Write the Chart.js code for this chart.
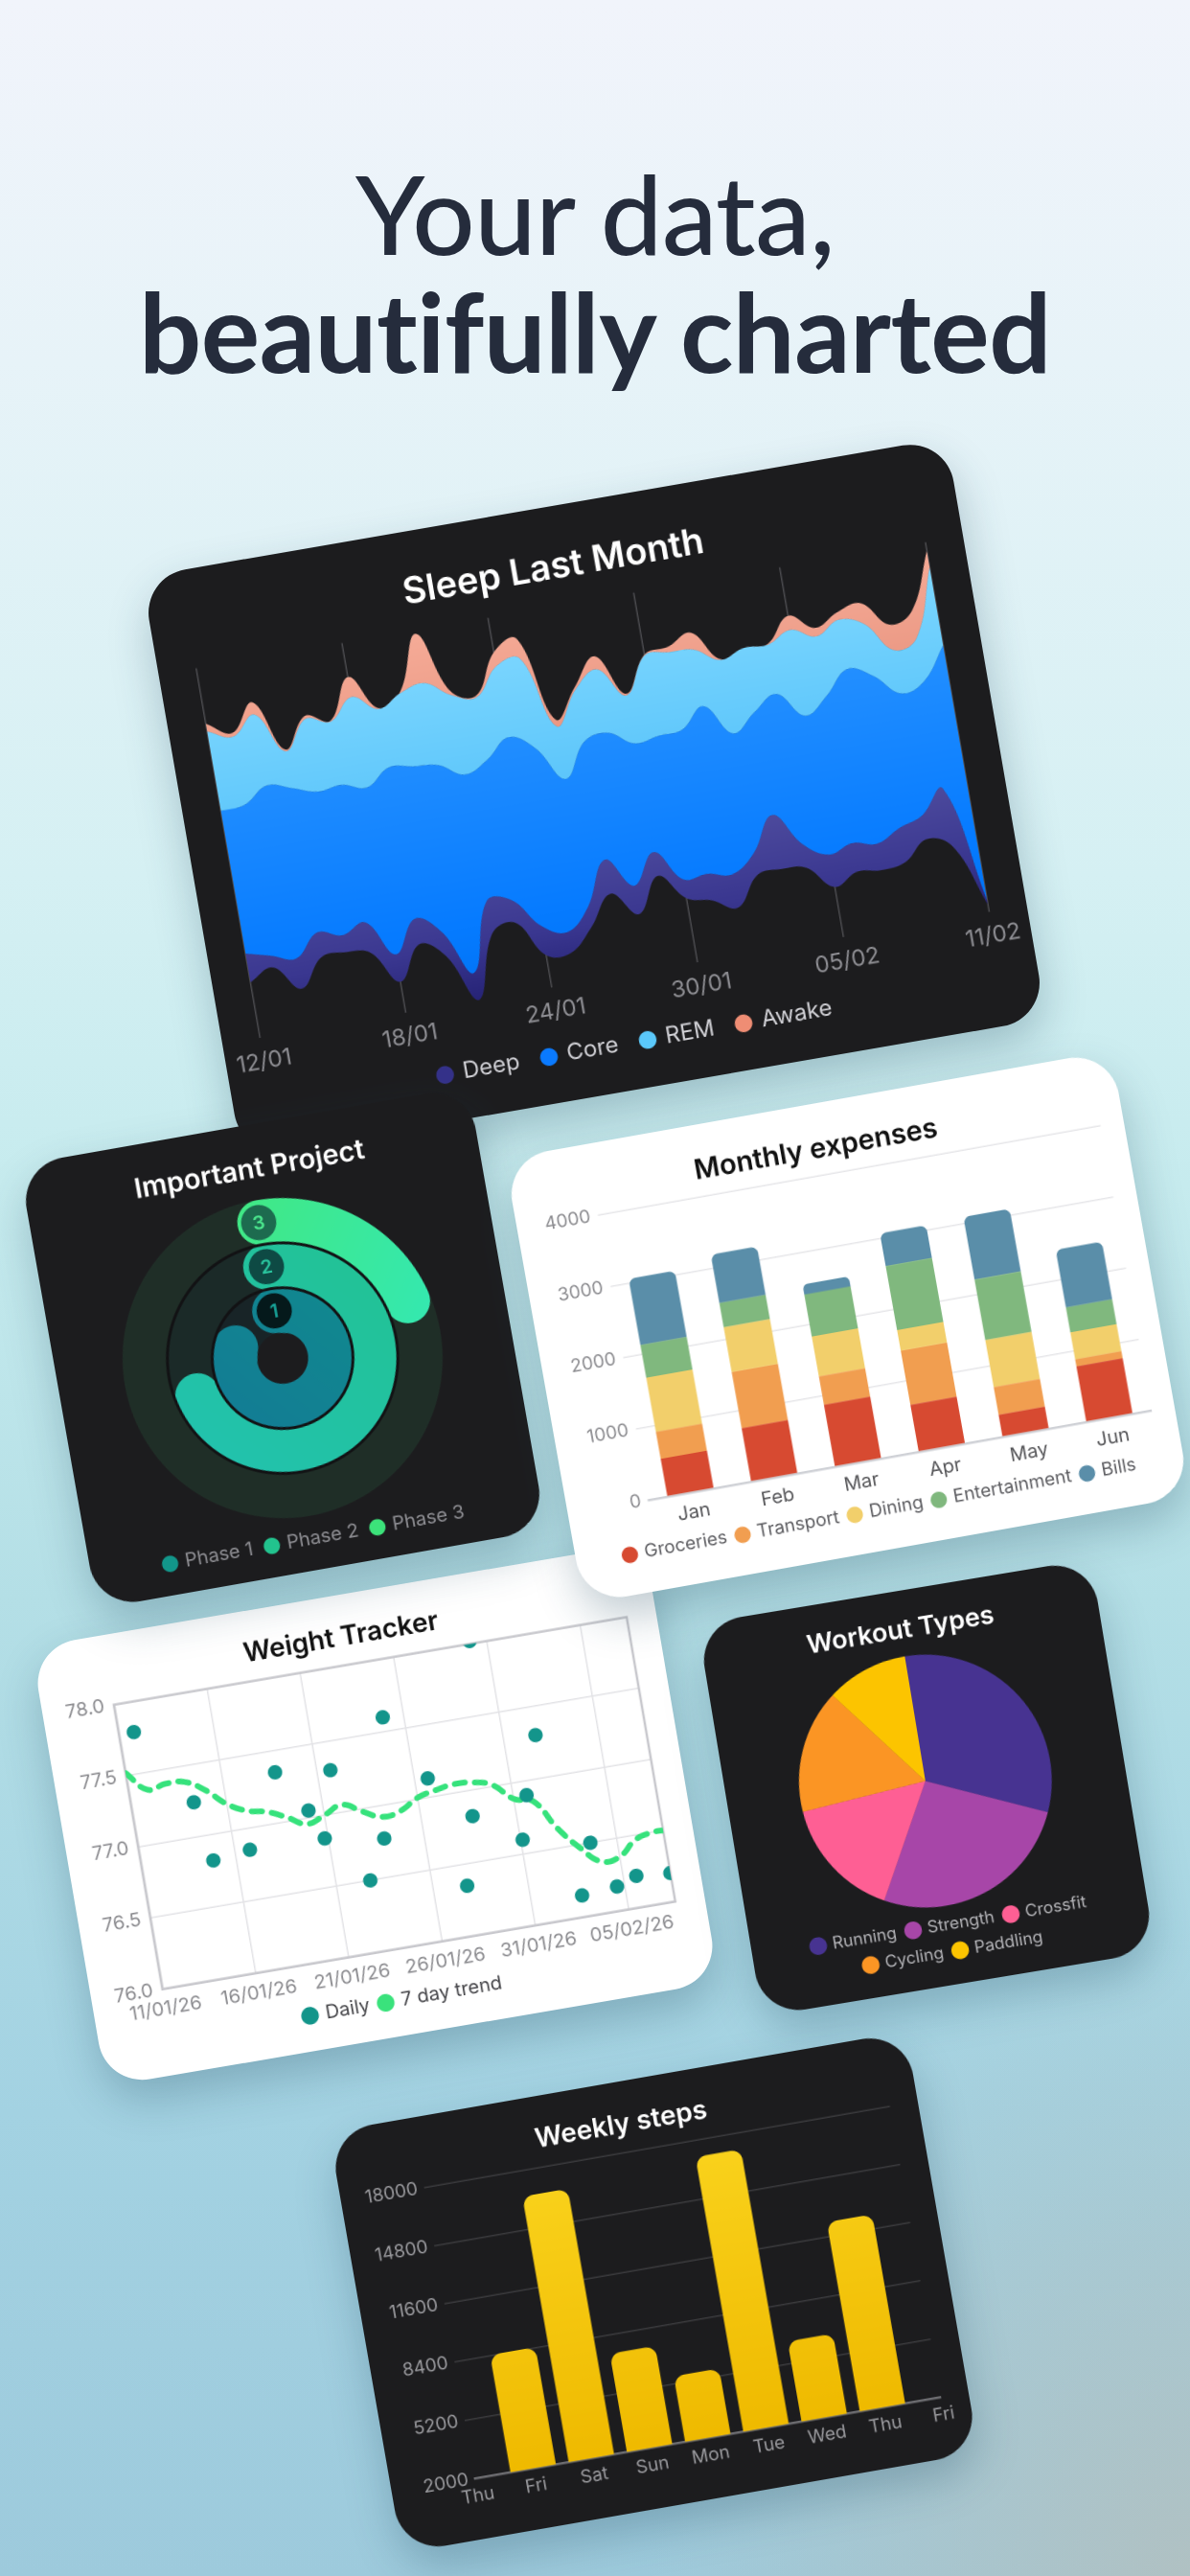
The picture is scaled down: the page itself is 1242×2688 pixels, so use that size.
<!DOCTYPE html>
<html>
<head>
<meta charset="utf-8">
<script src="https://cdn.jsdelivr.net/npm/chart.js@4.4.1/dist/chart.umd.min.js"></script>
<style>
html,body{margin:0;padding:0}
body{width:1242px;height:2688px;position:relative;overflow:hidden;
  background:
    radial-gradient(ellipse 760px 900px at 1242px 2688px, rgba(178,192,192,0.9), rgba(178,192,192,0) 75%),
    linear-gradient(180deg,#f1f4fb 0%,#e7f3f8 14%,#d5f0f3 34%,#c6ebee 46%,#b4dfe6 62%,#a3d2e2 82%,#9dcadc 100%);
  font-family:Lato,"Noto Sans",sans-serif}
.headline{position:absolute;left:0;width:1242px;text-align:center;color:#252c3c;font-size:115px;line-height:123px;letter-spacing:-0.5px}
.card{position:absolute;border-radius:46px;overflow:hidden;box-shadow:0 20px 46px rgba(30,70,90,.28)}
.dark{background:#1c1c1e}
.light{background:#ffffff}
canvas{display:block}
</style>
</head>
<body>
<div class="headline" style="top:160px">
  <div style="font-weight:500">Your data,</div>
  <div style="font-weight:700">beautifully charted</div>
</div>

<div class="card dark" style="left:194px;top:524.5px;width:852px;height:615px;transform:rotate(-9.8deg);z-index:1"><canvas id="sleep" width="852" height="615"></canvas></div>
<div class="card light" style="left:67.4px;top:1660.9px;width:649px;height:465px;transform:rotate(-9.7deg);z-index:2"><canvas id="weight" width="649" height="465"></canvas></div>
<div class="card dark" style="left:57.3px;top:1170.8px;width:476px;height:470px;transform:rotate(-10deg);z-index:3"><canvas id="project" width="476" height="470"></canvas></div>
<div class="card light" style="left:563px;top:1148.5px;width:643px;height:472px;transform:rotate(-10.1deg);z-index:4"><canvas id="expenses" width="643" height="472"></canvas></div>
<div class="card dark" style="left:758.9px;top:1657.8px;width:416px;height:415px;transform:rotate(-9.4deg);z-index:5"><canvas id="workout" width="416" height="415"></canvas></div>
<div class="card dark" style="left:377.1px;top:2169.2px;width:611px;height:446px;transform:rotate(-9.9deg);z-index:6"><canvas id="steps" width="611" height="446"></canvas></div>

<script>
// ================= DATA =================
// Sleep Last Month (hours per night, stacked; offset = hidden baseline)
const sleepDates = ['12/01','13/01','14/01','15/01','16/01','17/01','18/01','19/01','20/01','21/01','22/01','23/01','24/01','25/01','26/01','27/01','28/01','29/01','30/01','31/01','01/02','02/02','03/02','04/02','05/02','06/02','07/02','08/02','09/02','10/02','11/02'];
const sleepOffset = [1.31,1.56,0.96,1.60,1.62,1.51,0.73,1.51,1.13,0.00,1.47,1.62,0.76,0.71,1.22,1.91,1.33,2.13,1.51,1.36,1.09,1.76,1.80,1.73,1.18,1.44,1.38,1.47,1.91,1.64,0.18];
const sleepDeep   = [0.67,0.27,0.71,0.58,0.40,0.71,0.64,0.60,0.56,0.64,0.76,0.53,0.69,0.49,0.47,0.80,0.67,0.56,0.44,0.62,0.78,0.51,1.27,0.56,0.76,0.67,0.62,0.80,0.56,1.36,0.09];
const sleepCore   = [3.36,3.56,4.07,3.40,3.38,3.24,3.93,3.56,3.91,4.89,2.98,3.31,4.44,4.33,3.02,2.78,3.60,2.56,3.38,3.40,3.96,2.82,2.42,3.53,3.27,3.47,4.11,3.58,2.87,2.53,6.00];
const sleepREM    = [1.87,1.60,1.67,0.87,1.71,1.49,2.13,1.38,1.73,1.93,1.87,1.47,1.67,2.11,1.24,1.22,1.49,1.13,1.89,1.82,1.33,1.73,1.51,1.16,2.02,1.40,1.16,1.22,1.02,1.02,1.84];
const sleepAwake  = [0.18,0.09,0.29,0.04,0.07,0.02,0.47,0.02,0.04,1.16,0.09,0.04,0.33,0.47,0.16,0.07,0.31,0.04,0.02,0.13,0.40,0.02,0.00,0.02,0.33,0.20,0.18,0.49,0.60,0.64,0.38];

// Important Project (percent of ring completed)
const projectPhases = ['Phase 1','Phase 2','Phase 3'];
const projectProgress = [96, 79, 26];

// Monthly expenses
const expenseMonths = ['Jan','Feb','Mar','Apr','May','Jun'];
const groceries     = [530, 750, 870, 660, 310, 780];
const transport     = [380, 790, 400, 760, 390, 100];
const dining        = [760, 630, 560, 290, 660, 380];
const entertainment = [460, 340, 590, 900, 850, 350];
const bills         = [930, 680, 140, 460, 880, 810];

// Weight Tracker (x = days since 11/01/26)
const weightTickLabels = ['11/01/26','16/01/26','21/01/26','26/01/26','31/01/26','05/02/26'];
const weightDay   = [0.8, 3.3, 3.8, 5.8, 7.8, 9.2, 9.8, 10.7, 11.8, 12.9, 13.9, 15.7, 16.8, 17.7, 19.1, 20.1, 20.7, 21.7, 22.7, 23.6, 24.6, 25.7, 27.5];
const weightDaily = [77.79, 77.24, 76.82, 76.85, 77.35, 77.05, 76.84, 77.30, 76.50, 76.77, 77.60, 77.13, 76.35, 76.82, 78.02, 76.60, 76.90, 77.30, 76.15, 76.50, 76.17, 76.22, 76.20];
const trendDay    = [0,1,2,3,4,5,6,7,8,9,10,11,12,13,14,15,16,17,18,19,20,21,22,23,24,25,26,27,27.5];
const trendWeight = [77.52,77.38,77.40,77.39,77.31,77.19,77.12,77.09,77.03,76.96,77.00,77.05,76.98,76.92,76.94,77.01,77.04,77.06,77.05,77.01,76.89,76.85,76.64,76.48,76.36,76.37,76.47,76.50,76.50];

// Workout Types
const workoutTypes  = ['Running','Strength','Crossfit','Cycling','Paddling'];
const workoutCounts = [12, 10, 6, 6, 4];

// Weekly steps
const stepDays    = ['Thu','Fri','Sat','Sun','Mon','Tue','Wed','Thu','Fri'];
const weeklySteps = [null, 8450, 16600, 7400, 5600, 17100, 6400, 12400, null];

// ================= HELPERS =================
Chart.defaults.font.family = "Inter, 'Noto Sans', sans-serif";
const base = {responsive:false, devicePixelRatio:2, animation:false, events:[]};

function vGrad(stops){
  return (c)=>{
    const ch=c.chart, a=ch.chartArea;
    if(!a) return stops[stops.length-1][1];
    const g=ch.ctx.createLinearGradient(0,a.top,0,a.bottom);
    stops.forEach(s=>g.addColorStop(s[0],s[1]));
    return g;
  };
}
function dotLegend(colors, textColor){
  return (chart)=>chart.data.datasets.map((ds,i)=>({text:ds.label, fillStyle:colors[ds.label], strokeStyle:'rgba(0,0,0,0)', lineWidth:0, pointStyle:'circle', hidden:false, datasetIndex:i, fontColor:textColor})).filter(it=>colors[it.text]);
}
const plainNum = (v)=>String(v);

// ================= SLEEP =================
const sleepLegendColors = {Deep:'#34318a', Core:'#0a7aff', REM:'#5ac8fa', Awake:'#ef8d74'};
new Chart(document.getElementById('sleep'), {
  type:'line',
  data:{labels:sleepDates, datasets:[
    {label:'offset', data:sleepOffset, fill:false, borderWidth:0, borderColor:'rgba(0,0,0,0)', backgroundColor:'rgba(0,0,0,0)'},
    {label:'Deep',  data:sleepDeep,  fill:'-1', backgroundColor:vGrad([[0.5,'#5a58a6'],[0.85,'#3a3790'],[1,'#262376']])},
    {label:'Core',  data:sleepCore,  fill:'-1', backgroundColor:vGrad([[0.15,'#2b95ff'],[0.8,'#067bff'],[1,'#0073f5']])},
    {label:'REM',   data:sleepREM,   fill:'-1', backgroundColor:vGrad([[0.05,'#7fd8ff'],[0.55,'#55c2fa']])},
    {label:'Awake', data:sleepAwake, fill:'-1', backgroundColor:vGrad([[0,'#f6ac98'],[0.5,'#e48c77']])}
  ]},
  options:{...base,
    layout:{padding:{left:37,right:39,top:41,bottom:27}},
    elements:{line:{tension:0.4,borderWidth:0}, point:{radius:0}},
    plugins:{
      title:{display:true,text:'Sleep Last Month',color:'#ffffff',font:{size:38,weight:'600'},padding:{top:0,bottom:17}},
      legend:{position:'bottom',labels:{usePointStyle:true,boxWidth:14,boxHeight:13,padding:24,color:'#d1d1d6',font:{size:24},generateLabels:dotLegend(sleepLegendColors,'#d1d1d6')}},
      tooltip:{enabled:false}
    },
    scales:{
      x:{grid:{color:(c)=>c.index%6===0?'#4a4a4e':'rgba(0,0,0,0)',lineWidth:1.5,drawTicks:false},border:{display:false},
         ticks:{autoSkip:false,maxRotation:0,padding:11,color:'#8e8e93',font:{size:24},callback:(v,i)=>i%6===0?sleepDates[i]:''},
         afterFit:(s)=>{s.height=35;}},
      y:{display:false,stacked:true,min:0,max:8.7}
    }
  }
});

// ================= IMPORTANT PROJECT =================
const ringTrack=['#1f2e27','#1b2a28','#182427'];
const badgeFill=['#05191b','#0e4a44','#1d6b4f'];
const badgeText=['#17a398','#2ac49e','#4be78d'];
const ringRotation=[-26.4,-14.4,-8.9];
const legendPhaseColors=['#12968a','#22c38e','#3ce27a'];
function ringGrad(phase){
  return (c)=>{
    if(c.dataIndex===1) return 'rgba(0,0,0,0)';
    const ch=c.chart,a=ch.chartArea;
    if(!a) return legendPhaseColors[phase];
    let g;
    if(phase===2){g=ch.ctx.createLinearGradient(a.left+a.width*0.3,a.top,a.right,a.top+a.height*0.5);g.addColorStop(0,'#44e97c');g.addColorStop(1,'#33e8b6');}
    else if(phase===1){g=ch.ctx.createLinearGradient(a.right,a.top,a.left,a.bottom);g.addColorStop(0,'#22c28c');g.addColorStop(1,'#22c2b8');}
    else {g=ch.ctx.createLinearGradient(a.right,a.top,a.left,a.bottom);g.addColorStop(0,'#0f938a');g.addColorStop(1,'#15729a');}
    return g;
  };
}
const ringPlugin={
  id:'ringPlugin',
  beforeDatasetsDraw(chart){
    const ctx=chart.ctx;
    chart.data.datasets.forEach((ds,di)=>{
      const arc=chart.getDatasetMeta(di).data[0];
      const p=arc.getProps(['x','y','innerRadius','outerRadius'],true);
      ctx.save();ctx.beginPath();
      ctx.arc(p.x,p.y,p.outerRadius,0,Math.PI*2);ctx.arc(p.x,p.y,p.innerRadius,0,Math.PI*2,true);
      ctx.fillStyle=ringTrack[di];ctx.fill();ctx.restore();
    });
  },
  afterDatasetsDraw(chart){
    const ctx=chart.ctx;
    chart.data.datasets.forEach((ds,di)=>{
      const arc=chart.getDatasetMeta(di).data[0];
      const p=arc.getProps(['x','y','innerRadius','outerRadius'],true);
      if(di<2){ctx.save();ctx.beginPath();ctx.arc(p.x,p.y,p.innerRadius,0,Math.PI*2);ctx.strokeStyle='#121214';ctx.lineWidth=3;ctx.stroke();ctx.restore();}
    });
    chart.data.datasets.forEach((ds,di)=>{
      const arc=chart.getDatasetMeta(di).data[0];
      const p=arc.getProps(['x','y','innerRadius','outerRadius'],true);
      const phase=2-di;
      const mid=(p.innerRadius+p.outerRadius)/2, r=(p.outerRadius-p.innerRadius)/2-5;
      ctx.save();ctx.beginPath();ctx.arc(p.x,p.y-mid,r,0,Math.PI*2);ctx.fillStyle=badgeFill[phase];ctx.fill();
      ctx.fillStyle=badgeText[phase];ctx.font="600 20px Inter, sans-serif";ctx.textAlign='center';ctx.textBaseline='middle';
      ctx.fillText(String(phase+1),p.x,p.y-mid+1);ctx.restore();
    });
  }
};
new Chart(document.getElementById('project'),{
  type:'doughnut',
  data:{labels:['done','left'],datasets:[2,1,0].map(ph=>({
    label:projectPhases[ph], data:[projectProgress[ph],100-projectProgress[ph]],
    rotation:ringRotation[ph], backgroundColor:ringGrad(ph), borderWidth:0, hoverBorderWidth:0, hoverOffset:0,
    borderRadius:[60,0]
  }))},
  options:{...base, cutout:'16%',
    layout:{padding:{left:50,right:54,top:29.6,bottom:13}},
    plugins:{
      title:{display:true,text:'Important Project',color:'#ffffff',font:{size:29,weight:'600'},padding:{top:0,bottom:14.6}},
      legend:{position:'bottom',labels:{usePointStyle:true,boxWidth:12,boxHeight:12,padding:14,color:'#8e8e93',font:{size:20},
        generateLabels:()=>projectPhases.map((t,i)=>({text:t,fillStyle:legendPhaseColors[i],strokeStyle:'rgba(0,0,0,0)',lineWidth:0,pointStyle:'circle',hidden:false,index:i,fontColor:'#8e8e93'}))}},
      tooltip:{enabled:false}
    }
  },
  plugins:[ringPlugin]
});

// ================= MONTHLY EXPENSES =================
new Chart(document.getElementById('expenses'),{
  type:'bar',
  data:{labels:expenseMonths,datasets:[
    {label:'Groceries',data:groceries,backgroundColor:'#d74a31'},
    {label:'Transport',data:transport,backgroundColor:'#f19e50'},
    {label:'Dining',data:dining,backgroundColor:'#f2cf6b'},
    {label:'Entertainment',data:entertainment,backgroundColor:'#80b87e'},
    {label:'Bills',data:bills,backgroundColor:'#5a8ea9',borderRadius:7}
  ]},
  options:{...base,
    datasets:{bar:{categoryPercentage:0.8,barPercentage:0.69,borderWidth:0}},
    layout:{padding:{left:24.5,right:24.5,top:30.6,bottom:22.5}},
    plugins:{
      title:{display:true,text:'Monthly expenses',color:'#111111',font:{size:29,weight:'600'},padding:{top:0,bottom:9.9}},
      legend:{position:'bottom',labels:{usePointStyle:true,boxWidth:12,boxHeight:12,padding:10.5,color:'#5c5c60',font:{size:19}}},
      tooltip:{enabled:false}
    },
    scales:{
      x:{stacked:true,grid:{display:false,drawTicks:false},border:{display:true,color:'#cfd1d6',width:2.5},
         ticks:{color:'#555558',font:{size:20},padding:9},afterFit:(s)=>{s.height=33;}},
      y:{stacked:true,min:0,max:4000,ticks:{stepSize:1000,color:'#8a8a8e',font:{size:19},padding:8,callback:plainNum},
         grid:{color:'#e6e6e9',lineWidth:1.5,drawTicks:false},border:{display:false},afterFit:(s)=>{s.width=61.1;}}
    }
  }
});

// ================= WEIGHT TRACKER =================
const framePlugin={id:'frame',beforeDatasetsDraw(chart){const a=chart.chartArea,c=chart.ctx;c.save();c.strokeStyle='#c8c8cd';c.lineWidth=2.5;c.strokeRect(a.left,a.top,a.width,a.height);c.restore();}};
new Chart(document.getElementById('weight'),{
  type:'scatter',
  data:{datasets:[
    {label:'Daily',data:weightDay.map((d,i)=>({x:d,y:weightDaily[i]})),pointRadius:7.5,pointBackgroundColor:'#13958b',pointBorderWidth:0,backgroundColor:'#13958b'},
    {type:'line',label:'7 day trend',data:trendDay.map((d,i)=>({x:d,y:trendWeight[i]})),borderColor:'#36e27c',backgroundColor:'#36e27c',borderWidth:6,borderDash:[11,10],borderCapStyle:'round',tension:0.45,pointRadius:0,fill:false}
  ]},
  options:{...base,
    layout:{padding:{left:23,right:31,top:27.6,bottom:17}},
    plugins:{
      title:{display:true,text:'Weight Tracker',color:'#111111',font:{size:28,weight:'600'},padding:{top:0,bottom:12.4}},
      legend:{position:'bottom',labels:{usePointStyle:true,boxWidth:13,boxHeight:13,padding:10.4,color:'#444448',font:{size:20},
        generateLabels:dotLegend({'Daily':'#12958a','7 day trend':'#3ae27c'},'#444448')}},
      tooltip:{enabled:false}
    },
    scales:{
      x:{type:'linear',min:0,max:27.5,ticks:{stepSize:5,includeBounds:false,autoSkip:false,maxRotation:0,color:'#8a8a8e',font:{size:20},padding:8.7,
           callback:(v)=>(v%5===0?weightTickLabels[v/5]:'')},
         grid:{color:'#e3e3e6',lineWidth:1.5,drawTicks:false},border:{color:'#c8c8cd',width:2.5},afterFit:(s)=>{s.height=33;}},
      y:{min:76,max:78,ticks:{stepSize:0.5,color:'#8a8a8e',font:{size:20},padding:10,callback:(v)=>Number(v).toFixed(1)},
         grid:{color:'#e3e3e6',lineWidth:1.5,drawTicks:false},border:{color:'#c8c8cd',width:2.5},afterFit:(s)=>{s.width=52;}}
    }
  },
  plugins:[framePlugin]
});

// ================= WORKOUT TYPES =================
new Chart(document.getElementById('workout'),{
  type:'pie',
  data:{labels:workoutTypes,datasets:[{data:workoutCounts,backgroundColor:['#473391','#a746a8','#fe5f94','#fb9524','#fcc400'],borderWidth:0,hoverOffset:0}]},
  options:{...base,
    layout:{padding:{left:45,right:45,top:25.3,bottom:15.7}},
    plugins:{
      title:{display:true,text:'Workout Types',color:'#ffffff',font:{size:27,weight:'600'},padding:{top:0,bottom:10.8}},
      legend:{position:'bottom',labels:{usePointStyle:true,boxWidth:13,boxHeight:13,padding:11,color:'#b4b4b8',font:{size:17.5}}},
      tooltip:{enabled:false}
    }
  }
});

// ================= WEEKLY STEPS =================
new Chart(document.getElementById('steps'),{
  type:'bar',
  data:{labels:stepDays,datasets:[{label:'Steps',data:weeklySteps,backgroundColor:vGrad([[0,'#fad31d'],[1,'#efba00']]),borderRadius:11,borderSkipped:'start',barPercentage:0.78,categoryPercentage:1}]},
  options:{...base,
    layout:{padding:{left:22,right:29.5,top:28.1,bottom:23.8}},
    plugins:{
      title:{display:true,text:'Weekly steps',color:'#ffffff',font:{size:28,weight:'600'},padding:{top:0,bottom:12.4}},
      legend:{display:false},tooltip:{enabled:false}
    },
    scales:{
      x:{offset:false,grid:{display:false,offset:false,drawTicks:false},border:{display:true,color:'#6d6d71',width:2.5},
         ticks:{color:'#9a9a9e',font:{size:19},padding:7,maxRotation:0,autoSkip:false},afterFit:(s)=>{s.height=40;}},
      y:{min:2000,max:18000,ticks:{stepSize:3200,color:'#9a9a9e',font:{size:19},padding:7,callback:plainNum},
         grid:{color:'#3a3a3d',lineWidth:1.5,drawTicks:false},border:{display:false},afterFit:(s)=>{s.width=66.1;}}
    }
  }
});
</script>
</body>
</html>
